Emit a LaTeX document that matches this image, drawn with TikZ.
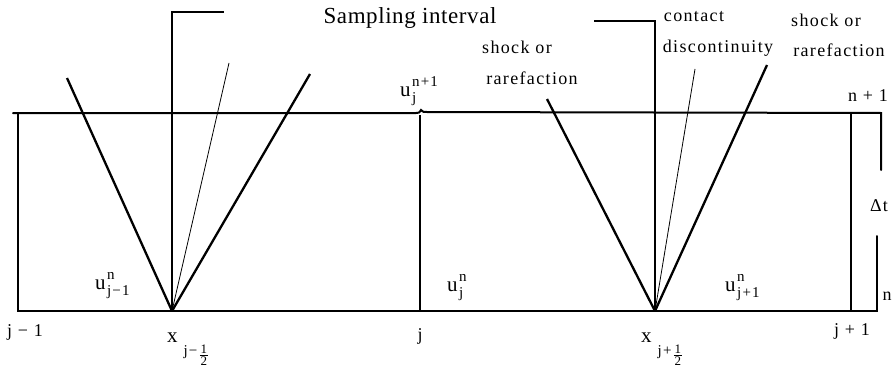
\documentclass[tikz,border=0pt]{standalone}
\usepackage{fontspec}
\setmainfont{Liberation Serif}[LetterSpace=7.5]
\newcommand\scrfont{\fontsize{15}{15}\selectfont}
\newcommand\uuvar[2]{u\kern1.5pt\rlap{\raisebox{10pt}{\scrfont #1}}\raisebox{-6pt}{\scrfont #2}}
\newcommand\halfstack{\raisebox{-10pt}{\vbox{\offinterlineskip\hbox to 8pt{\hss\fontsize{13}{13}\selectfont 1\hss}\kern1.2pt\hrule height0.6pt\kern1.2pt\hbox to 8pt{\hss\fontsize{13}{13}\selectfont 2\hss}}}}
\newcommand\xxvar[1]{x\kern6pt\raisebox{-13pt}{\scrfont j#1\kern2.5pt\halfstack}}
\begin{document}
\begin{tikzpicture}[x=1pt,y=-1pt,
  boxline/.style={line width=2pt,line cap=round},
  wave/.style={line width=2.3pt},
  thinray/.style={line width=0.8pt},
  lbl/.style={inner sep=0pt,font=\fontsize{18}{20}\selectfont},
  mlbl/.style={inner sep=0pt,anchor=base west,font=\fontsize{21}{22}\selectfont},
  biglbl/.style={inner sep=0pt,font=\fontsize{23}{25}\selectfont\addfontfeature{LetterSpace=2.5}}]
\useasboundingbox (0,0) rectangle (896,369);
% grid points
\coordinate (TL) at (13,113);
\coordinate (TR) at (881,113);
\coordinate (BL) at (18,311);
\coordinate (BR) at (877,311);
\coordinate (J0t) at (18,113);
\coordinate (Jt) at (420,115);
\coordinate (Jb) at (420,311);
\coordinate (J1t) at (851,113);
\coordinate (J1b) at (851,311);
\coordinate (Bra) at (881,170);
\coordinate (Brb) at (877,236);
\coordinate (Ja) at (416,113);
\coordinate (Jc) at (427,112);
% cell box
\draw[boxline] (TL) -- (Ja) .. controls (419,113) .. (421,110) .. controls (423,112) .. (Jc) -- (TR) -- (Bra);
\draw[boxline] (Brb) -- (BR) -- (BL) -- (J0t);
\draw[wave] (Jt) -- (Jb);
\draw[wave] (J1t) -- (J1b);
% left fan
\coordinate (L) at (172,311);
\coordinate (Ltop) at (172,12);
\coordinate (Lend) at (224,12);
\coordinate (La) at (67,78);
\coordinate (Lb) at (310,74);
\coordinate (Lc) at (229,63);
\draw[wave] (L) -- (Ltop) -- (Lend);
\draw[wave] (L) -- (La);
\draw[wave] (L) -- (Lb);
\draw[thinray] (L) -- (Lc);
% right fan
\coordinate (R) at (655,311);
\coordinate (Rtop) at (655,21);
\coordinate (Rend) at (594,21);
\coordinate (Ra) at (547,99);
\coordinate (Rb) at (767,65);
\coordinate (Rc) at (695,69);
\draw[wave] (R) -- (Rtop) -- (Rend);
\draw[wave] (R) -- (Ra);
\draw[wave] (R) -- (Rb);
\draw[thinray] (R) -- (Rc);
% labels
\node[biglbl] (samp) at (410,18) {Sampling interval};
\node[lbl] (sh1) at (517,47) {shock or};
\node[lbl] (ra1) at (532,78) {rarefaction};
\node[lbl] (con) at (694,17) {contact};
\node[lbl] (dis) at (718,48) {discontinuity};
\node[lbl] (sh2) at (826,20) {shock or};
\node[lbl] (ra2) at (839,50) {rarefaction};
\node[lbl] (np1) at (868,96) {n + 1};
\node[lbl] (dt) at (879,206) {Δt};
\node[lbl] (nn) at (887,296) {n};
\node[mlbl] (ujn1) at (400,96) {\uuvar{n+1}{j}};
\node[mlbl] (ujm) at (95,289) {\uuvar{n}{j−1}};
\node[mlbl] (uj) at (447,291) {\uuvar{n}{j}};
\node[mlbl] (ujp) at (725,291) {\uuvar{n}{j+1}};
\node[lbl] (jm) at (25,332) {j − 1};
\node[mlbl] (xjm) at (167,342) {\xxvar{−}};
\node[lbl] (jj) at (420,336) {j};
\node[mlbl] (xjp) at (641,342) {\xxvar{+}};
\node[lbl] (jp) at (852,331) {j + 1};
\end{tikzpicture}
\end{document}
